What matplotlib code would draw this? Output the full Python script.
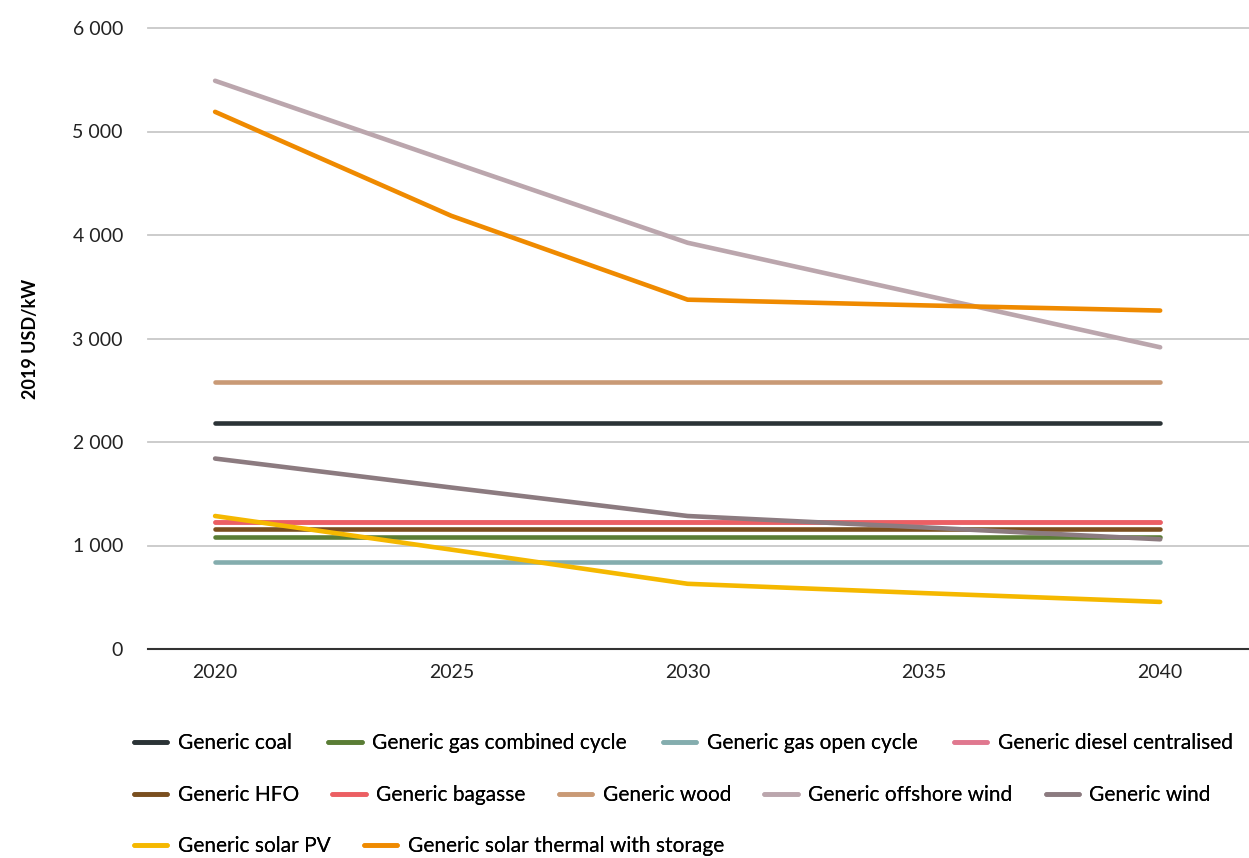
import matplotlib
matplotlib.use("Agg")
import matplotlib.pyplot as plt
from matplotlib.ticker import FuncFormatter

plt.rcParams['font.family'] = ['Lato', 'DejaVu Sans']

# data (2019 USD/kW)
years = [2020, 2025, 2030, 2035, 2040]
coal = [2180, 2180, 2180, 2180, 2180]
gas_cc = [1080, 1080, 1080, 1080, 1080]
gas_oc = [840, 840, 840, 840, 840]
diesel = [1230, 1230, 1230, 1230, 1230]
hfo = [1155, 1155, 1155, 1155, 1155]
bagasse = [1230, 1230, 1230, 1230, 1230]
wood = [2575, 2575, 2575, 2575, 2575]
offshore_wind = [5490, 4705, 3925, 3420, 2915]
wind = [1840, 1560, 1285, 1175, 1060]
solar_pv = [1285, 960, 630, 540, 455]
solar_thermal = [5190, 4185, 3375, 3320, 3270]

labels = ['Generic coal', 'Generic gas combined cycle', 'Generic gas open cycle',
          'Generic diesel centralised', 'Generic HFO', 'Generic bagasse',
          'Generic wood', 'Generic offshore wind', 'Generic wind',
          'Generic solar PV', 'Generic solar thermal with storage']
series = [coal, gas_cc, gas_oc, diesel, hfo, bagasse, wood,
          offshore_wind, wind, solar_pv, solar_thermal]
colors = ['#2b3336', '#5a7d35', '#84adae', '#e0788f', '#7a4f1f', '#ec5f63',
          '#c99a76', '#bba6ad', '#8c7b80', '#f5b800', '#ef8a00']

fig = plt.figure(figsize=(12.49, 8.58), dpi=100)
ax = fig.add_axes([148 / 1249, 1 - 649 / 858, 1 - 148 / 1249, (649 - 28) / 858])

lines = []
for vals, lab, col in zip(series, labels, colors):
    ln, = ax.plot(years, vals, color=col, lw=3.3, label=lab, solid_capstyle='round')
    lines.append(ln)

ax.set_xlim(2018.58, 2041.88)
ax.set_ylim(0, 6000)
ax.set_xticks([2020, 2025, 2030, 2035, 2040])
ax.set_yticks(range(0, 6001, 1000))
ax.yaxis.set_major_formatter(FuncFormatter(lambda v, p: f"{int(v):,}".replace(",", " ")))
ax.grid(axis='y', color='#c8c8c8', lw=1.3)
for gl in ax.get_ygridlines():
    gl.set_clip_on(False)
ax.set_axisbelow(True)
for s in ['top', 'right', 'left']:
    ax.spines[s].set_visible(False)
ax.spines['bottom'].set_color('#333333')
ax.spines['bottom'].set_linewidth(1.5)
ax.tick_params(length=0, labelsize=14, colors='#222222')
ax.tick_params(axis='y', pad=18)
ax.tick_params(axis='x', pad=11)
ax.set_ylabel('2019 USD/kW', fontsize=13, fontweight='bold', labelpad=24)

# legend rows laid out like the reference (flow layout)
rows = [(0, 4, 743), (4, 9, 795), (9, 11, 846)]
for a, b, ypix in rows:
    leg = fig.legend(lines[a:b], labels[a:b], ncol=b - a, frameon=False,
                     loc='center left', bbox_to_anchor=(134 / 1249, 1 - ypix / 858),
                     fontsize=15, handlelength=1.6, handletextpad=0.5,
                     columnspacing=1.75 if a == 0 else 1.6,
                     borderaxespad=0, borderpad=0)
    for h in leg.get_lines():
        h.set_linewidth(3.3)
    fig.add_artist(leg)

fig.savefig('out.png', dpi=100)
